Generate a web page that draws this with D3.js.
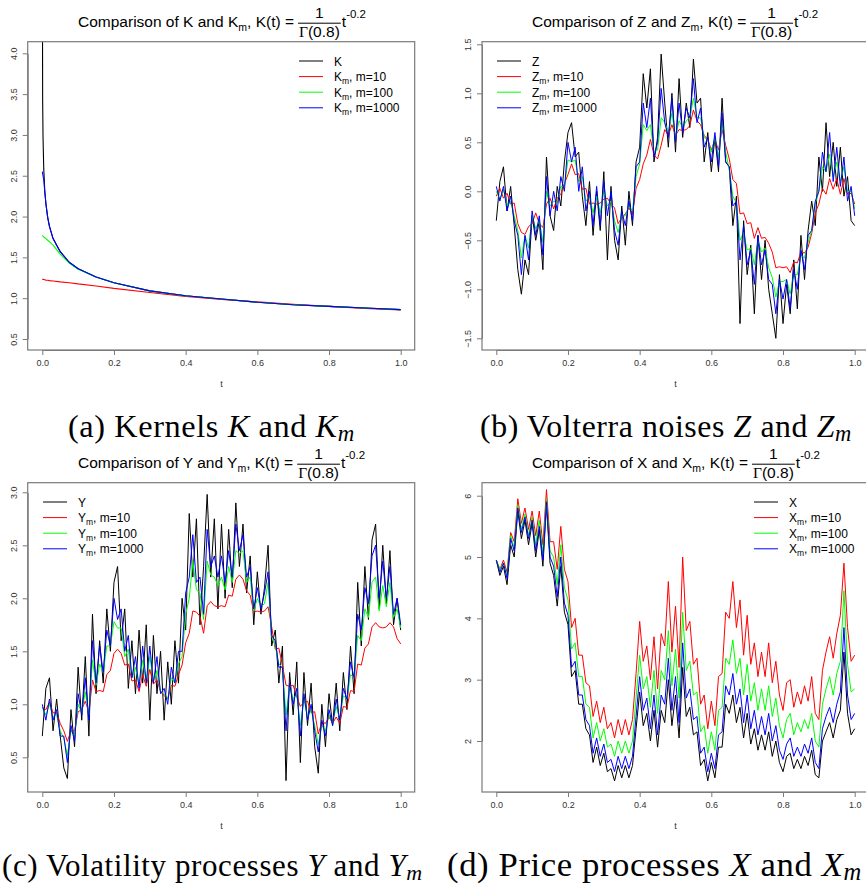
<!DOCTYPE html>
<html>
<head>
<meta charset="utf-8">
<script src="https://cdn.jsdelivr.net/npm/d3@7"></script>
<style>
body { margin: 0; background: #fff; }
svg { display: block; }
</style>
</head>
<body>
<svg id="fig" width="866" height="891"></svg>
<script>
// ---- panel (a): kernels ----
const kTimes = [0.0004, 0.001, 0.002, 0.004, 0.007, 0.01, 0.015, 0.02, 0.03, 0.05, 0.075, 0.1, 0.15, 0.2, 0.3, 0.4, 0.5, 0.6, 0.7, 0.8, 0.9, 1.0];
const kExact = [4.6, 3.42, 2.98, 2.59, 2.31, 2.16, 1.99, 1.88, 1.73, 1.57, 1.44, 1.36, 1.26, 1.19, 1.09, 1.03, 0.99, 0.95, 0.92, 0.90, 0.88, 0.86];
const kmTimes = [0, 0.002, 0.004, 0.007, 0.01, 0.015, 0.02, 0.03, 0.05, 0.075, 0.1, 0.15, 0.2, 0.3, 0.4, 0.5, 0.6, 0.7, 0.8, 0.9, 1.0];
const km10 = [1.23, 1.23, 1.23, 1.225, 1.22, 1.22, 1.215, 1.21, 1.2, 1.19, 1.175, 1.15, 1.12, 1.07, 1.02, 0.985, 0.955, 0.925, 0.9, 0.875, 0.855];
const km100 = [1.77, 1.76, 1.75, 1.74, 1.73, 1.71, 1.69, 1.65, 1.54, 1.43, 1.355, 1.26, 1.19, 1.09, 1.03, 0.99, 0.95, 0.92, 0.90, 0.88, 0.86];
const km1000 = [2.55, 2.5, 2.45, 2.3, 2.16, 1.99, 1.88, 1.73, 1.57, 1.44, 1.36, 1.26, 1.19, 1.09, 1.03, 0.99, 0.95, 0.92, 0.90, 0.88, 0.86];

// ---- panel (b): Volterra noise, 101 samples on [0,1] ----
const zExact = [-0.3,0.1,0.25,-0.2,0.05,-0.35,-0.8,-1.05,-0.7,-0.85, -0.25,-0.5,-0.3,-0.8,0.35,-0.25,-0.4,0.05,-0.15,0.3, 0.6,0.7,0.35,0.4,-0.05,-0.35,0.1,-0.45,0.0,-0.4, 0.2,-0.7,0.05,-0.5,-0.7,-0.15,-0.55,0.0,-0.35,0.3, 0.45,1.2,0.85,1.25,0.3,0.55,1.4,0.9,0.45,1.0, 0.4,1.15,0.55,0.9,0.65,1.35,0.9,0.95,0.3,0.6, 0.2,0.55,0.2,0.95,0.3,0.25,-0.35,-0.05,-1.35,-0.3, -0.85,-0.55,-1.25,-0.45,-0.9,-0.5,-1.0,-1.25,-1.5,-0.85, -1.35,-0.95,-1.25,-0.7,-1.2,-0.45,-0.9,-0.4,-0.1,-0.35, 0.35,0.0,0.7,0.15,0.5,0.05,0.45,-0.05,0.15,-0.3,-0.35];
const z10 = [-0.05,0.03,-0.07,-0.02,-0.13,-0.12,-0.33,-0.42,-0.44,-0.36, -0.33,-0.22,-0.33,-0.37,-0.13,-0.07,-0.18,-0.07,-0.03,0.08, 0.17,0.28,0.17,0.18,0.02,0.03,-0.13,-0.12,-0.13,-0.12, -0.08,-0.07,-0.13,-0.17,-0.33,-0.27,-0.23,-0.17,-0.23,0.03, 0.12,0.28,0.37,0.53,0.37,0.33,0.47,0.63,0.57,0.68, 0.57,0.63,0.62,0.63,0.67,0.83,0.72,0.68,0.57,0.53, 0.42,0.53,0.42,0.63,0.47,0.33,0.12,0.08,-0.23,-0.22, -0.33,-0.32,-0.48,-0.37,-0.48,-0.47,-0.53,-0.62,-0.78,-0.77, -0.78,-0.77,-0.83,-0.72,-0.73,-0.62,-0.63,-0.57,-0.43,-0.22, -0.13,0.03,-0.03,0.13,0.02,0.13,-0.03,0.13,-0.03,-0.02,-0.13];
const z100 = [0.0,-0.08,0.02,-0.15,-0.1,-0.25,-0.4,-0.68,-0.45,-0.58, -0.25,-0.38,-0.3,-0.52,0.0,-0.15,-0.1,-0.12,0.05,0.05, 0.32,0.3,0.32,0.1,0.15,-0.1,-0.05,-0.22,-0.05,-0.22, 0.0,-0.15,-0.1,-0.3,-0.42,-0.25,-0.25,-0.15,-0.2,0.15, 0.28,0.68,0.62,0.68,0.4,0.42,0.75,0.7,0.6,0.8, 0.55,0.72,0.65,0.72,0.75,0.95,0.75,0.75,0.55,0.52, 0.4,0.55,0.35,0.7,0.4,0.22,-0.05,-0.12,-0.5,-0.42, -0.6,-0.58,-0.75,-0.5,-0.62,-0.58,-0.78,-0.88,-1.08,-0.92, -0.92,-0.9,-1.05,-0.85,-0.85,-0.65,-0.68,-0.52,-0.4,-0.12, 0.0,0.25,0.2,0.38,0.15,0.3,0.1,0.25,0.0,0.0,-0.18];
const z1000 = [0.05,-0.1,0.05,-0.2,-0.05,-0.3,-0.45,-0.85,-0.45,-0.7, -0.2,-0.45,-0.25,-0.65,0.15,-0.25,0.0,-0.2,0.15,0.0, 0.5,0.3,0.45,0.0,0.25,-0.2,0.0,-0.35,0.05,-0.35, 0.1,-0.25,0.0,-0.4,-0.55,-0.2,-0.35,-0.1,-0.3,0.25, 0.3,0.9,0.65,0.95,0.35,0.5,1.05,0.7,0.55,0.95, 0.5,0.9,0.6,0.85,0.75,1.15,0.7,0.85,0.45,0.55, 0.3,0.6,0.25,0.8,0.3,0.25,-0.15,-0.1,-0.7,-0.35, -0.75,-0.6,-0.95,-0.45,-0.75,-0.6,-0.9,-0.95,-1.25,-0.9, -1.1,-0.9,-1.2,-0.8,-1.0,-0.6,-0.8,-0.45,-0.4,-0.1, 0.0,0.4,0.2,0.6,0.1,0.45,0.05,0.35,-0.1,0.05,-0.25];

// ---- panel (c): volatility ----
const yExact = [0.7,1.15,1.25,0.75,1.05,0.7,0.4,0.3,0.95,0.6, 1.35,0.85,1.45,0.7,1.85,1.1,1.6,1.2,1.9,1.5, 2.15,2.3,1.6,1.9,1.15,1.6,1.1,1.7,1.2,1.75, 0.85,1.65,1.1,1.5,0.85,1.4,1.0,1.6,1.2,2.0, 1.7,2.8,2.2,2.75,1.75,2.3,2.98,2.2,2.75,1.9, 2.7,2.0,2.65,2.1,2.9,2.3,2.7,2.05,2.4,1.75, 2.25,1.85,2.1,2.5,1.55,1.7,1.2,1.55,0.28,1.3, 0.9,1.4,0.45,1.3,0.8,1.2,0.6,0.35,1.0,0.6, 1.1,0.8,1.2,0.75,1.3,0.95,1.55,1.1,2.15,1.55, 2.3,1.8,2.55,2.7,1.9,2.5,1.95,2.45,1.75,2.0,1.7];
const y10 = [0.97,0.95,1.02,0.92,0.92,0.82,0.75,0.65,0.75,0.75, 0.93,0.95,1.03,0.92,1.23,1.12,1.13,1.12,1.28,1.32, 1.48,1.52,1.48,1.37,1.38,1.22,1.23,1.12,1.28,1.17, 1.33,1.19,1.23,1.12,1.08,1.05,1.18,1.17,1.28,1.37, 1.58,1.67,1.88,1.87,1.83,1.67,1.93,1.97,1.93,1.92, 1.93,1.92,2.03,2.02,2.18,2.22,2.18,2.07,2.03,1.87, 1.88,1.87,1.88,1.92,1.73,1.52,1.53,1.37,1.18,1.17, 1.18,1.07,0.98,1.02,1.03,0.92,0.93,0.72,0.83,0.82, 0.88,0.82,0.88,0.82,0.98,0.97,1.13,1.12,1.38,1.37, 1.53,1.57,1.73,1.77,1.73,1.72,1.73,1.77,1.73,1.62,1.57];
const y100 = [0.97,0.9,1.0,0.88,0.9,0.75,0.68,0.52,0.75,0.7, 1.0,0.92,1.12,0.9,1.42,1.18,1.38,1.3,1.55,1.55, 1.78,1.72,1.72,1.45,1.52,1.25,1.35,1.18,1.42,1.2, 1.45,1.22,1.32,1.12,1.1,1.05,1.25,1.2,1.38,1.45, 1.85,2.0,2.35,2.08,2.05,1.8,2.35,2.22,2.2,2.12, 2.2,2.08,2.3,2.15,2.45,2.42,2.45,2.15,2.2,1.88, 2.0,1.92,1.95,2.15,1.65,1.55,1.38,1.35,0.9,1.18, 1.05,1.1,0.8,1.05,0.88,0.95,0.8,0.62,0.8,0.75, 0.9,0.82,0.98,0.86,1.08,1.05,1.28,1.25,1.65,1.6, 1.9,1.82,2.15,2.2,1.88,2.12,1.92,2.15,1.82,1.9,1.72];
const y1000 = [1.0,0.85,1.05,0.85,0.95,0.7,0.7,0.45,0.8,0.65, 1.1,0.9,1.25,0.85,1.6,1.2,1.55,1.3,1.7,1.55, 2.0,1.8,1.9,1.5,1.65,1.25,1.45,1.15,1.55,1.2, 1.55,1.2,1.45,1.1,1.15,1.0,1.35,1.2,1.5,1.5, 2.05,2.2,2.6,2.15,2.2,1.85,2.65,2.3,2.4,2.2, 2.4,2.15,2.45,2.2,2.7,2.45,2.6,2.2,2.3,1.9, 2.1,1.9,2.05,2.25,1.65,1.6,1.35,1.35,0.75,1.2, 1.0,1.15,0.7,1.1,0.85,1.0,0.75,0.55,0.85,0.7, 0.95,0.8,1.05,0.85,1.15,1.05,1.4,1.25,1.85,1.7, 2.1,1.95,2.4,2.5,2.0,2.35,2.0,2.3,1.85,2.0,1.75];

// ---- panel (d): price ----
const xExact = [4.95,4.7,4.85,4.55,5.2,5.0,5.75,5.3,5.6,5.2, 5.55,5.0,5.45,4.85,5.85,4.9,4.7,4.2,4.85,4.1, 3.9,3.05,3.15,2.6,2.6,2.2,2.1,1.65,1.9,1.6, 1.8,1.5,1.55,1.35,1.6,1.4,1.6,1.4,1.6,2.2, 2.8,2.25,2.45,2.0,2.5,1.9,2.5,2.3,3.0,2.25, 2.75,2.05,3.2,2.4,2.55,2.1,2.15,1.6,1.7,1.35, 1.65,1.4,1.9,1.9,2.6,2.45,2.75,2.3,2.55,2.05, 2.45,1.95,2.2,1.85,2.1,1.85,2.15,1.75,2.0,1.65, 1.5,1.75,1.8,1.55,1.7,1.55,1.75,1.6,1.85,1.45, 1.4,2.0,2.15,2.3,2.05,2.35,2.5,3.45,2.45,2.1,2.2];
const x10 = [4.95,4.8,4.95,4.75,5.4,5.25,5.95,5.55,5.8,5.45, 5.75,5.35,5.75,5.2,6.1,5.25,5.25,4.8,5.5,4.8, 4.6,3.85,4.0,3.4,3.4,2.95,2.9,2.4,2.65,2.3, 2.55,2.2,2.3,2.05,2.35,2.1,2.35,2.1,2.35,3.1, 3.95,3.3,3.55,3.0,3.7,2.85,3.75,3.55,4.6,3.45, 4.2,3.2,5.0,3.8,3.95,3.25,3.35,2.6,2.75,2.2, 2.65,2.25,3.05,3.1,4.1,4.0,4.6,3.85,4.3,3.4, 4.05,3.25,3.6,3.05,3.45,3.05,3.6,2.95,3.3,2.75, 2.5,2.95,3.0,2.55,2.8,2.6,2.9,2.65,3.05,2.45, 2.35,3.15,3.45,3.7,3.35,3.75,4.05,4.9,3.85,3.3,3.4];
const x100 = [4.95,4.8,4.9,4.7,5.35,5.15,5.85,5.45,5.7,5.35, 5.65,5.2,5.6,5.05,5.95,5.1,5.0,4.55,5.2,4.5, 4.3,3.5,3.6,3.05,3.05,2.6,2.55,2.05,2.3,2.0, 2.2,1.9,1.95,1.75,2.0,1.8,2.0,1.8,2.0,2.7, 3.4,2.85,3.05,2.55,3.15,2.45,3.15,3.0,3.8,2.9, 3.5,2.7,4.1,3.15,3.3,2.75,2.8,2.15,2.25,1.8, 2.15,1.85,2.5,2.55,3.35,3.25,3.65,3.1,3.35,2.75, 3.25,2.65,2.95,2.5,2.85,2.5,2.9,2.4,2.7,2.25, 2.05,2.35,2.45,2.1,2.3,2.15,2.35,2.2,2.45,2.0, 1.9,2.6,2.85,3.05,2.75,3.1,3.3,4.45,3.25,2.8,2.85];
const x1000 = [4.95,4.75,4.9,4.65,5.3,5.1,5.8,5.4,5.65,5.3, 5.6,5.1,5.5,4.95,5.9,5.0,4.85,4.35,5.0,4.25, 4.05,3.2,3.3,2.75,2.75,2.35,2.25,1.8,2.05,1.75, 1.95,1.65,1.7,1.5,1.75,1.55,1.75,1.55,1.75,2.4, 3.05,2.5,2.7,2.2,2.75,2.1,2.75,2.6,3.35,2.5, 3.05,2.3,3.6,2.7,2.85,2.35,2.4,1.8,1.9,1.5, 1.8,1.55,2.1,2.15,2.9,2.75,3.1,2.6,2.85,2.3, 2.75,2.2,2.5,2.1,2.4,2.1,2.45,2.0,2.25,1.85, 1.7,1.95,2.05,1.75,1.9,1.75,1.95,1.8,2.05,1.65, 1.55,2.2,2.4,2.55,2.3,2.6,2.8,3.85,2.75,2.35,2.45];

const tTicks = [0, 0.2, 0.4, 0.6, 0.8, 1.0];
const colors = ["#000000", "#ff0000", "#00ff00", "#0000ff"];
const legendTails = ["", ", m=10", ", m=100", ", m=1000"];
const captions = [
    ["(a) Kernels ", "K", " and ", "K", "m"],
    ["(b) Volterra noises ", "Z", " and ", "Z", "m"],
    ["(c) Volatility processes ", "Y", " and ", "Y", "m"],
    ["(d) Price processes ", "X", " and ", "X", "m"]
];

const svg = d3.select("#fig");
const sans = "'Liberation Sans', Arial, sans-serif";

// pairs a value array with its time grid (evenly spaced when no grid is given)
function pts(vals, times) {
    return vals.map((v, i) => [times ? times[i] : i / (vals.length - 1), v]);
}

function drawTitle(g, x0, yb, L) {
    const fs = "15.5px";
    const t = g.append("text").attr("x", x0).attr("y", yb)
        .style("font-family", sans).style("font-size", fs).attr("fill", "#000");
    t.append("tspan").text(`Comparison of ${L} and ${L}`);
    t.append("tspan").attr("dy", 4).style("font-size", "10.5px").text("m");
    t.append("tspan").attr("dy", -4).text(", K(t) =");
    const w = t.node().getComputedTextLength();
    const fx = x0 + w + 4;
    const den = g.append("text").attr("x", fx + 1).attr("y", yb + 10)
        .style("font-family", sans).style("font-size", fs);
    den.append("tspan").style("font-family", "'Liberation Serif', serif").text("\u0393");
    den.append("tspan").text("(0.8)");
    const dw = den.node().getComputedTextLength();
    g.append("line").attr("x1", fx).attr("x2", fx + dw + 2)
        .attr("y1", yb - 4).attr("y2", yb - 4).attr("stroke", "#000").attr("stroke-width", 1);
    g.append("text").attr("x", fx + (dw + 2) / 2).attr("y", yb - 9).attr("text-anchor", "middle")
        .style("font-family", sans).style("font-size", fs).text("1");
    const tt = g.append("text").attr("x", fx + dw + 3).attr("y", yb)
        .style("font-family", sans).style("font-size", fs);
    tt.append("tspan").text("t");
    tt.append("tspan").attr("dy", -9).style("font-size", "11.5px").text("-0.2");
}

function drawPanel(p) {
    const g = svg.append("g");
    const x = d3.scaleLinear().domain([0, 1]).range([p.x0, p.x1]);
    const y = d3.scaleLinear().domain(p.yDom).range(p.yRange);
    const id = "clip" + p.key;
    g.append("clipPath").attr("id", id).append("rect")
        .attr("x", p.box[0]).attr("y", p.box[1]).attr("width", p.box[2] - p.box[0]).attr("height", p.box[3] - p.box[1]);

    const line = d3.line().x(d => x(d[0])).y(d => y(d[1]));
    const lines = g.append("g").attr("clip-path", `url(#${id})`);
    p.series.forEach((s, i) => {
        lines.append("path").attr("d", line(s)).attr("fill", "none")
            .attr("stroke", colors[i]).attr("stroke-width", p.lw).attr("stroke-linejoin", "round");
    });

    // box
    g.append("rect").attr("x", p.box[0]).attr("y", p.box[1])
        .attr("width", p.box[2] - p.box[0]).attr("height", p.box[3] - p.box[1])
        .attr("fill", "none").attr("stroke", "#7a7a7a").attr("stroke-width", 1.2);

    // axes, R style
    const ax = g.append("g").attr("transform", `translate(0,${p.box[3]})`)
        .call(d3.axisBottom(x).tickValues(tTicks).tickSize(5).tickSizeOuter(0).tickFormat(d3.format(".1f")));
    const ay = g.append("g").attr("transform", `translate(${p.box[0]},0)`)
        .call(d3.axisLeft(y).tickValues(p.yTicks).tickSize(5).tickSizeOuter(0).tickFormat(d3.format(p.yFmt)));
    [ax, ay].forEach(a => {
        a.selectAll("path, line").attr("stroke", "#7a7a7a");
        a.selectAll("text").style("font-family", sans).style("font-size", "9px").attr("fill", "#333");
    });
    ax.selectAll("text").attr("y", 10);
    ay.selectAll("text").attr("transform", "rotate(-90)").attr("x", 0).attr("y", -11)
        .attr("dy", 0).attr("text-anchor", "middle");
    g.append("text").attr("x", (p.x0 + p.x1) / 2).attr("y", p.box[3] + 37).attr("text-anchor", "middle")
        .style("font-family", sans).style("font-size", "9px").attr("fill", "#333").text("t");

    drawTitle(g, p.titleX, p.box[1] - 14.5, p.L);

    // legend
    const lg = g.append("g").attr("transform", `translate(${p.leg[0]},${p.leg[1]})`);
    colors.forEach((c, i) => {
        const ry = i * 15.6;
        lg.append("line").attr("x1", 0).attr("x2", 24).attr("y1", ry).attr("y2", ry)
            .attr("stroke", c).attr("stroke-width", 1);
        const tx = lg.append("text").attr("x", 35).attr("y", ry + 4.5)
            .style("font-family", sans).style("font-size", "12px").attr("fill", "#000");
        tx.append("tspan").text(p.L);
        if (i > 0) {
            tx.append("tspan").attr("dy", 3).style("font-size", "8.5px").text("m");
            tx.append("tspan").attr("dy", -3).text(legendTails[i]);
        }
    });
}

// caption under each panel, sized so it spans the same width as in the figure
function drawCaption(parts, xL, xR, yb) {
    const ls = 0.6;
    const t = svg.append("text").attr("x", xL).attr("y", yb)
        .style("font-family", "'Liberation Serif', 'Times New Roman', serif").style("font-size", "24px").attr("fill", "#000");
    t.append("tspan").text(parts[0]);
    t.append("tspan").style("font-style", "italic").text(parts[1]);
    t.append("tspan").text(parts[2]);
    t.append("tspan").style("font-style", "italic").text(parts[3]);
    const sub = t.append("tspan").attr("dy", 4).style("font-style", "italic").style("font-size", "17px").text(parts[4]);
    const w = t.node().getComputedTextLength();
    const n = parts.join("").length;
    const k = (xR - xL - n * ls) / w;
    t.style("font-size", (24 * k) + "px").style("letter-spacing", ls + "px");
    sub.style("font-size", (17 * k) + "px");
}

const topBox = [41.7, 350];
const botBox = [482.7, 792];

drawPanel({
    key: "a", L: "K", x0: 42.3, x1: 400.7, box: [27.7, topBox[0], 414.7, topBox[1]], lw: 1.1,
    yDom: [0.5, 4.0], yRange: [339, 53.3], yTicks: [0.5, 1, 1.5, 2, 2.5, 3, 3.5, 4], yFmt: ".1f",
    series: [pts(kExact, kTimes), pts(km10, kmTimes), pts(km100, kmTimes), pts(km1000, kmTimes)],
    titleX: 78, leg: [299, 61]
});
drawPanel({
    key: "b", L: "Z", x0: 496.3, x1: 854.7, box: [482, topBox[0], 869, topBox[1]], lw: 1,
    yDom: [-1.5, 1.5], yRange: [338.3, 44.3], yTicks: [-1.5, -1, -0.5, 0, 0.5, 1, 1.5], yFmt: ".1f",
    series: [pts(zExact), pts(z10), pts(z100), pts(z1000)],
    titleX: 532, leg: [497, 61]
});
drawPanel({
    key: "c", L: "Y", x0: 42.3, x1: 400.7, box: [27.7, botBox[0], 414.7, botBox[1]], lw: 1,
    yDom: [0.5, 3.0], yRange: [757.3, 492.3], yTicks: [0.5, 1, 1.5, 2, 2.5, 3], yFmt: ".1f",
    series: [pts(yExact), pts(y10), pts(y100), pts(y1000)],
    titleX: 78, leg: [43, 502]
});
drawPanel({
    key: "d", L: "X", x0: 496.3, x1: 854.7, box: [482, botBox[0], 869, botBox[1]], lw: 1,
    yDom: [2, 6], yRange: [741, 495.7], yTicks: [2, 3, 4, 5, 6], yFmt: "d",
    series: [pts(xExact), pts(x10), pts(x100), pts(x1000)],
    titleX: 532, leg: [754, 502]
});

drawCaption(captions[0], 68, 355, 437);
drawCaption(captions[1], 480, 852, 437);
drawCaption(captions[2], 2, 423, 876);
drawCaption(captions[3], 447, 862, 876);
</script>
</body>
</html>
